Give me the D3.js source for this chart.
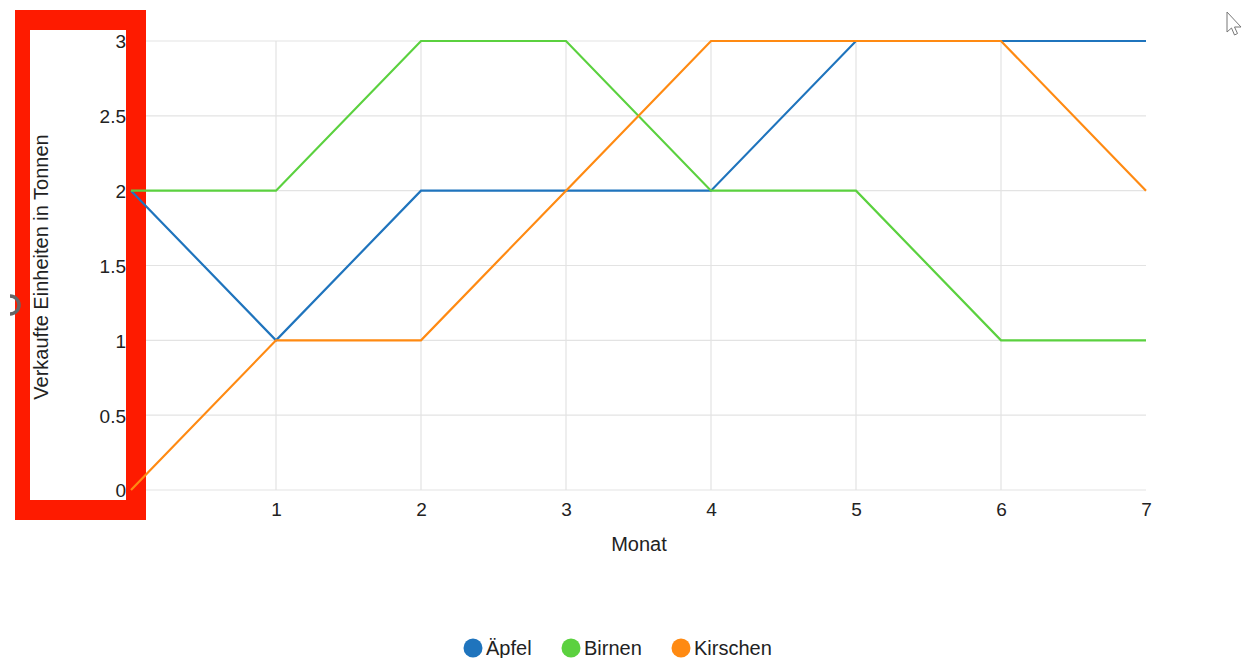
<!DOCTYPE html>
<html>
<head>
<meta charset="utf-8">
<script src="https://cdn.jsdelivr.net/npm/d3@7"></script>
<style>
  html, body { margin: 0; padding: 0; background: #fff; }
  svg { display: block; font-family: "Liberation Sans", Arial, sans-serif; }
</style>
</head>
<body>
<svg id="chart" width="1243" height="658"></svg>
<script>
// Monthly sales per fruit, in tonnes
const months = [0, 1, 2, 3, 4, 5, 6, 7];
const aepfel = [2, 1, 2, 2, 2, 3, 3, 3];
const birnen = [2, 2, 3, 3, 2, 2, 1, 1];
const kirschen = [0, 1, 1, 2, 3, 3, 3, 2];
const seriesNames = ["Äpfel", "Birnen", "Kirschen"];
const seriesColors = ["#1f74bd", "#5bd13f", "#ff8a12"];
const yTicks = [0, 0.5, 1, 1.5, 2, 2.5, 3];
const xTicks = [1, 2, 3, 4, 5, 6, 7];

const series = [aepfel, birnen, kirschen].map((vals, i) => ({
  name: seriesNames[i], color: seriesColors[i],
  points: months.map((m, j) => ({ x: m, y: vals[j] }))
}));

const FONT = "Liberation Sans, Arial, sans-serif";
const svg = d3.select("#chart");
const x = d3.scaleLinear().domain([0, 7]).range([131, 1146]);
const y = d3.scaleLinear().domain([0, 3]).range([490, 41]);

// grid
svg.append("g")
  .selectAll("line").data(yTicks).join("line")
  .attr("x1", x(0)).attr("x2", x(7))
  .attr("y1", d => y(d)).attr("y2", d => y(d))
  .attr("stroke", "#e3e3e3").attr("stroke-width", 1.2);
svg.append("g")
  .selectAll("line").data(xTicks.filter(d => d < 7)).join("line")
  .attr("x1", d => x(d)).attr("x2", d => x(d))
  .attr("y1", y(3)).attr("y2", y(0))
  .attr("stroke", "#e3e3e3").attr("stroke-width", 1.2);

// axes (labels only)
const yAxis = svg.append("g")
  .attr("transform", `translate(${x(0) - 5},0)`)
  .call(d3.axisLeft(y).tickValues(yTicks).tickSize(0).tickPadding(0).tickFormat(d3.format("~g")));
yAxis.select(".domain").remove();
yAxis.selectAll("text").attr("font-size", 19).attr("fill", "#222")
  .attr("font-family", FONT).attr("dy", "0.36em");

const xAxis = svg.append("g")
  .attr("transform", `translate(0,${y(0) + 12})`)
  .call(d3.axisBottom(x).tickValues(xTicks).tickSize(0).tickPadding(0).tickFormat(d3.format("d")));
xAxis.select(".domain").remove();
xAxis.selectAll("text").attr("font-size", 19).attr("fill", "#222")
  .attr("font-family", FONT);

// axis titles
svg.append("text")
  .attr("x", 639).attr("y", 551)
  .attr("text-anchor", "middle").attr("font-size", 20).attr("fill", "#222")
  .text("Monat");
svg.append("text")
  .attr("transform", "translate(48,267) rotate(-90)")
  .attr("text-anchor", "middle").attr("font-size", 20).attr("fill", "#222")
  .text("Verkaufte Einheiten in Tonnen");

// red highlight frame around the value axis
svg.append("path")
  .attr("fill-rule", "evenodd")
  .attr("fill", "#fe1b00")
  .attr("d", "M15,10 H146 V520 H15 Z M30,30 V500 H126 V30 Z");

// lines
const line = d3.line().x(d => x(d.x)).y(d => y(d.y));
svg.append("g")
  .selectAll("path").data(series).join("path")
  .attr("d", d => line(d.points))
  .attr("fill", "none")
  .attr("stroke", d => d.color)
  .attr("stroke-width", 2.2)
  .attr("stroke-linejoin", "miter");

// legend
const legendX = [473, 571, 681];
const legend = svg.append("g");
series.forEach((s, i) => {
  legend.append("circle")
    .attr("cx", legendX[i]).attr("cy", 648).attr("r", 9.5)
    .attr("fill", s.color);
  legend.append("text")
    .attr("x", legendX[i] + 13).attr("y", 655)
    .attr("font-size", 20).attr("fill", "#222")
    .text(s.name);
});

// small side handle at the left edge
svg.append("path")
  .attr("d", "M10,296 A9,9 0 0 1 10,314")
  .attr("fill", "none").attr("stroke", "#666").attr("stroke-width", 3.5);

// pointer arrow at top right
svg.append("path")
  .attr("d", "M1227,12 L1227,32 L1231.5,28 L1234.5,35 L1237.5,33.5 L1234.5,27 L1241,27 Z")
  .attr("fill", "#fff").attr("stroke", "#777").attr("stroke-width", 1)
  .attr("stroke-linejoin", "round");
</script>
</body>
</html>
